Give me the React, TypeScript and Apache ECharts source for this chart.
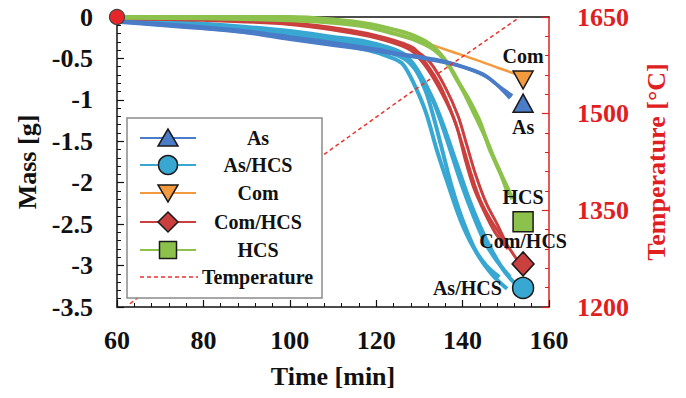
import React, { useEffect, useRef } from "react";
import * as echarts from "echarts";

// ---------- data ----------
const timeMin = 60;
const timeMax = 160;
const timeInterval = 20;
const massMin = -3.5;
const massMax = 0;
const massInterval = 0.5;
const tempMin = 1200;
const tempMax = 1650;
const tempInterval = 150;

const materials = ["As", "As/HCS", "Com", "Com/HCS", "HCS"];

const asRuns: number[][][] = [
  [[60, -0.05], [70, -0.08], [80, -0.12], [90, -0.17], [100, -0.24], [110, -0.31], [120, -0.39], [125, -0.44], [130, -0.48], [135.5, -0.53], [140, -0.6], [144.7, -0.69], [148, -0.82], [151, -0.98]],
  [[60, -0.06], [70, -0.1], [80, -0.14], [90, -0.19], [100, -0.27], [110, -0.34], [120, -0.41], [126, -0.46], [131, -0.5], [136, -0.55], [141, -0.62], [145.5, -0.72], [149, -0.86], [151.5, -0.95]],
];

const asHcsRuns: number[][][] = [
  [[60, -0.02], [70, -0.05], [80, -0.08], [90, -0.12], [100, -0.17], [110, -0.24], [118, -0.3], [123, -0.37], [126.5, -0.45], [129, -0.62], [131.5, -0.9], [133.5, -1.25], [135.5, -1.65], [137.5, -2.05], [140, -2.45], [143.3, -2.85], [147, -3.12], [150.3, -3.28]],
  [[60, -0.04], [70, -0.07], [80, -0.11], [90, -0.16], [100, -0.22], [110, -0.29], [118, -0.36], [123, -0.43], [127, -0.52], [130, -0.7], [133, -0.98], [135.5, -1.3], [138.5, -1.75], [141.5, -2.2], [144, -2.52], [146.8, -2.82], [149.8, -3.08], [152.6, -3.24]],
  [[60, -0.05], [70, -0.09], [80, -0.13], [90, -0.18], [100, -0.25], [110, -0.32], [118, -0.4], [123, -0.48], [126, -0.56], [128.5, -0.78], [131.5, -1.15], [134, -1.6], [136.5, -2.0], [139.5, -2.45], [142.5, -2.78], [145.5, -3.0], [148.5, -3.14]],
  [[60, -0.03], [70, -0.06], [80, -0.1], [90, -0.14], [100, -0.2], [110, -0.27], [118, -0.33], [123, -0.4], [127.5, -0.5], [130.5, -0.72], [133.5, -1.05], [136.5, -1.5], [139.5, -1.98], [142.5, -2.4], [145, -2.7], [148, -2.95], [151, -3.14]],
];

const comRuns: number[][][] = [
  [[60, 0], [80, -0.01], [100, -0.03], [110, -0.07], [118, -0.12], [124, -0.19], [128, -0.25], [130.8, -0.3], [137, -0.41], [143.3, -0.52], [148, -0.61], [153, -0.7]],
];

const comHcsRuns: number[][][] = [
  [[60, -0.01], [80, -0.03], [100, -0.07], [114, -0.16], [122, -0.25], [128.5, -0.37], [131, -0.52], [134.5, -0.8], [137, -1.09], [138.8, -1.35], [140.3, -1.6], [142, -1.9], [144, -2.2], [146.5, -2.45], [149, -2.65], [152.6, -2.93]],
  [[60, -0.02], [80, -0.04], [100, -0.09], [114, -0.19], [122, -0.28], [128, -0.4], [131.5, -0.6], [135.5, -0.95], [138.5, -1.3], [140.5, -1.7], [142.5, -2.05], [145, -2.35], [147.5, -2.6], [150.5, -2.8]],
  [[60, -0.01], [80, -0.03], [100, -0.08], [114, -0.17], [122, -0.27], [128.5, -0.39], [132.5, -0.55], [136, -0.85], [139, -1.2], [141, -1.55], [143, -1.9], [145.5, -2.25], [148, -2.5], [150, -2.72]],
];

const hcsRuns: number[][][] = [
  [[60, 0], [80, 0], [100, 0], [110, -0.03], [118, -0.08], [124, -0.15], [128, -0.21], [132.5, -0.33], [136, -0.52], [138.7, -0.76], [141.5, -1.0], [144, -1.26], [146.3, -1.6], [148.5, -1.85], [150.3, -2.1]],
  [[60, -0.01], [80, -0.015], [100, -0.04], [110, -0.07], [118, -0.12], [124, -0.2], [129, -0.28], [133.5, -0.4], [137, -0.6], [140, -0.88], [143, -1.2], [145.5, -1.48], [148, -1.8], [150.3, -2.05], [151.5, -2.2]],
];

const temperaturePoints: number[][] = [[63, 1205], [108.6, 1440], [127.8, 1532], [153.3, 1650]];

const endTime = 154;
const endMass = [-1.04, -3.27, -0.76, -2.98, -2.47];
const startPoint = [60, 0];

// ---------- styles ----------
const FONT = "'Liberation Serif','Times New Roman',serif";
const colors: Record<string, string> = {
  "As": "#4a7cc8",
  "As/HCS": "#38a7d2",
  "Com": "#f39a3e",
  "Com/HCS": "#c9403e",
  "HCS": "#8cc24b",
};
const TEMP_RED = "#e8332f";
const AXIS_RED = "#e0201f";

const markerStyle: Record<string, any> = {
  "As": { symbol: "triangle", size: [20, 18], rotate: 0, labelPos: "bottom", dist: 4 },
  "As/HCS": { symbol: "circle", size: 21, rotate: 0, labelPos: "left", dist: 10 },
  "Com": { symbol: "triangle", size: [20, 18], rotate: 180, labelPos: "top", dist: 4 },
  "Com/HCS": { symbol: "diamond", size: [22, 24], rotate: 0, labelPos: "top", dist: 0 },
  "HCS": { symbol: "rect", size: 20, rotate: 0, labelPos: "top", dist: 4 },
};

function legendGraphics() {
  const els: any[] = [];
  const left = 127, top = 118, w = 195, h = 180;
  els.push({ type: "rect", shape: { x: left, y: top, width: w, height: h }, style: { fill: "#fff", stroke: "#8a8a8a", lineWidth: 1.5 }, z: 100 });
  const ys = [138, 165, 193, 222, 250, 277];
  const mx = 168;
  const names = [...materials, "Temperature"];
  names.forEach((n, i) => {
    const y = ys[i];
    if (n === "Temperature") {
      els.push({ type: "line", shape: { x1: 140, y1: y, x2: 198, y2: y }, style: { stroke: TEMP_RED, lineWidth: 1.5, lineDash: [4, 3] }, z: 101 });
    } else {
      els.push({ type: "line", shape: { x1: 140, y1: y, x2: 196, y2: y }, style: { stroke: colors[n], lineWidth: 2 }, z: 101 });
      const st = { fill: colors[n], stroke: "#1a1a1a", lineWidth: 1.5 };
      if (n === "As") els.push({ type: "polygon", shape: { points: [[mx, y - 9], [mx - 10, y + 8], [mx + 10, y + 8]] }, style: st, z: 102 });
      if (n === "As/HCS") els.push({ type: "circle", shape: { cx: mx, cy: y, r: 9.5 }, style: st, z: 102 });
      if (n === "Com") els.push({ type: "polygon", shape: { points: [[mx - 10, y - 8], [mx + 10, y - 8], [mx, y + 9]] }, style: st, z: 102 });
      if (n === "Com/HCS") els.push({ type: "polygon", shape: { points: [[mx, y - 10], [mx + 10, y], [mx, y + 10], [mx - 10, y]] }, style: st, z: 102 });
      if (n === "HCS") els.push({ type: "rect", shape: { x: mx - 8.5, y: y - 8.5, width: 17, height: 17 }, style: st, z: 102 });
    }
    els.push({
      type: "text",
      x: n === "Temperature" ? 202 : 258,
      y,
      style: { text: n, fill: "#111", font: `bold 20px ${FONT}`, align: n === "Temperature" ? "left" : "center", verticalAlign: "middle" },
      z: 103,
    });
  });
  return els;
}

export default function App() {
  const ref = useRef<HTMLDivElement>(null);
  useEffect(() => {
    document.body.style.margin = "0";
    if (!ref.current) return;
    const chart = echarts.init(ref.current, undefined, { renderer: "svg" });

    const runSets: [string, number[][][], number][] = [
      ["Com", comRuns, 2.5],
      ["As/HCS", asHcsRuns, 4],
      ["Com/HCS", comHcsRuns, 3],
      ["HCS", hcsRuns, 4],
      ["As", asRuns, 3.5],
    ];
    const series: any[] = [];
    runSets.forEach(([name, runs, width], si) => {
      runs.forEach((d) => {
        series.push({
          type: "line",
          name,
          data: d,
          smooth: 0.3,
          symbol: "none",
          lineStyle: { color: colors[name], width },
          z: 2 + si * 0.1,
          xAxisIndex: 0,
          yAxisIndex: 0,
        });
      });
    });
    series.push({
      type: "line",
      name: "Temperature",
      data: temperaturePoints,
      yAxisIndex: 1,
      symbol: "none",
      lineStyle: { color: TEMP_RED, width: 1.5, type: [4, 3] },
      z: 5,
    });
    materials.forEach((n, i) => {
      const ms = markerStyle[n];
      series.push({
        type: "scatter",
        name: n + " end",
        data: [{ value: [endTime, endMass[i]] }],
        symbol: ms.symbol,
        symbolSize: ms.size,
        symbolRotate: ms.rotate,
        itemStyle: { color: colors[n], borderColor: "#1a1a1a", borderWidth: 1.5, opacity: 1 },
        label: {
          show: true,
          formatter: n,
          position: ms.labelPos,
          distance: ms.dist,
          color: "#111",
          fontFamily: FONT,
          fontWeight: "bold",
          fontSize: 20,
        },
        z: 10,
      });
    });
    series.push({
      type: "scatter",
      name: "start",
      data: [startPoint],
      symbol: "circle",
      symbolSize: 15,
      clip: false,
      itemStyle: { color: "#e8262a", borderColor: "#444", borderWidth: 1.2, opacity: 1 },
      z: 11,
    });

    const tickFont = { fontFamily: FONT, fontWeight: "bold" as const, fontSize: 26 };

    chart.setOption({
      animation: false,
      grid: { left: 117, right: 137, top: 17, bottom: 91, containLabel: false, outerBoundsMode: "none" },
      xAxis: [
        {
          type: "value",
          min: timeMin,
          max: timeMax,
          interval: timeInterval,
          position: "bottom",
          name: "Time [min]",
          nameLocation: "middle",
          nameGap: 56,
          nameTextStyle: { ...tickFont, color: "#111", fontSize: 26 },
          axisLine: { show: true, onZero: false, lineStyle: { color: "#111", width: 1.5 } },
          axisTick: { show: true, inside: true, length: 7, lineStyle: { color: "#111", width: 1.2 } },
          minorTick: { show: true, splitNumber: 5, length: 4, lineStyle: { color: "#111", width: 1 } },
          splitLine: { show: false },
          axisLabel: { ...tickFont, color: "#111", margin: 20 },
        },
        {
          type: "value",
          min: timeMin,
          max: timeMax,
          position: "top",
          axisLine: { show: true, onZero: false, lineStyle: { color: "#111", width: 1.5 } },
          axisTick: { show: false },
          axisLabel: { show: false },
          splitLine: { show: false },
        },
      ],
      yAxis: [
        {
          type: "value",
          min: massMin,
          max: massMax,
          interval: massInterval,
          position: "left",
          name: "Mass [g]",
          nameLocation: "middle",
          nameRotate: 90,
          nameGap: 76,
          nameTextStyle: { ...tickFont, color: "#111" },
          axisLine: { show: true, onZero: false, lineStyle: { color: "#111", width: 1.5 } },
          axisTick: { show: true, inside: true, length: 7, lineStyle: { color: "#111", width: 1.2 } },
          minorTick: { show: true, splitNumber: 5, length: 4, lineStyle: { color: "#111", width: 1 } },
          splitLine: { show: false },
          axisLabel: { ...tickFont, color: "#111", margin: 24 },
        },
        {
          type: "value",
          min: tempMin,
          max: tempMax,
          interval: tempInterval,
          position: "right",
          name: "Temperature [°C]",
          nameLocation: "middle",
          nameRotate: 90,
          nameGap: 94,
          nameTextStyle: { ...tickFont, color: AXIS_RED },
          axisLine: { show: true, onZero: false, lineStyle: { color: AXIS_RED, width: 1.5 } },
          axisTick: { show: true, inside: true, length: 7, lineStyle: { color: AXIS_RED, width: 1.2 } },
          minorTick: { show: true, splitNumber: 5, length: 4, lineStyle: { color: AXIS_RED, width: 1 } },
          splitLine: { show: false },
          axisLabel: { ...tickFont, color: AXIS_RED, margin: 28, formatter: (v: number) => String(v) },
        },
      ],
      series,
      graphic: legendGraphics(),
    });
    return () => chart.dispose();
  }, []);
  return <div ref={ref} style={{ width: 686, height: 398 }} />;
}
